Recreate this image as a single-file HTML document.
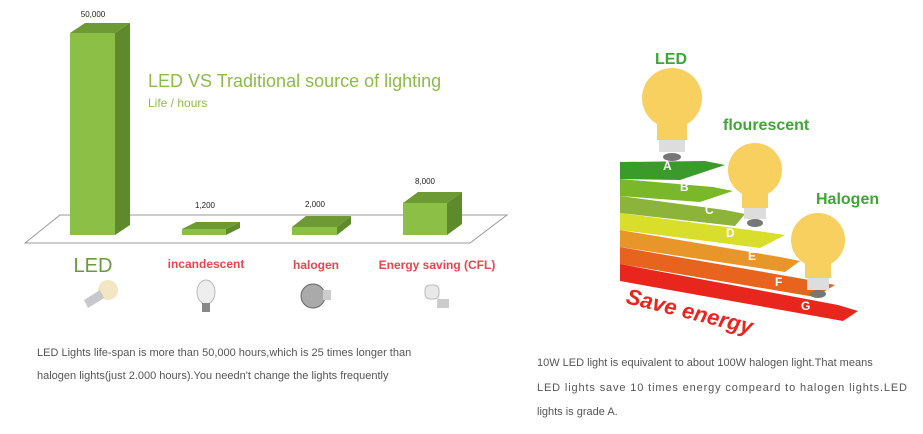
<!DOCTYPE html>
<html><head><meta charset="utf-8"><style>
body{margin:0;width:923px;height:429px;background:#fff;overflow:hidden;font-family:"Liberation Sans",sans-serif}
</style></head><body>
<svg width="923" height="429" viewBox="0 0 923 429" xmlns="http://www.w3.org/2000/svg">
<polygon points="25,243 60,215 507,215 470,243" fill="none" stroke="#999" stroke-width="1"/>
<g>
<polygon points="70,33 85,23 130,23 115,33" fill="#6e9a34"/>
<polygon points="115,33 130,23 130,225 115,235" fill="#5e8a2c"/>
<rect x="70" y="33" width="45" height="202" fill="#8cbf45"/>
<polygon points="182,229 196,222 240,222 226,229" fill="#6e9a34"/>
<polygon points="226,229 240,222 240,228 226,235" fill="#5e8a2c"/>
<rect x="182" y="229" width="44" height="6" fill="#8cbf45"/>
<polygon points="292,227 306,216 351,216 337,227" fill="#6e9a34"/>
<polygon points="337,227 351,216 351,224 337,235" fill="#5e8a2c"/>
<rect x="292" y="227" width="45" height="8" fill="#8cbf45"/>
<polygon points="403,203 418,192 462,192 447,203" fill="#6e9a34"/>
<polygon points="447,203 462,192 462,224 447,235" fill="#5e8a2c"/>
<rect x="403" y="203" width="44" height="32" fill="#8cbf45"/>
</g>
<g font-size="8" fill="#222" text-anchor="middle">
<text x="93" y="17">50,000</text><text x="205" y="208">1,200</text><text x="315" y="207">2,000</text><text x="425" y="184">8,000</text>
</g>
<text x="148" y="87" font-size="18" fill="#8dbb4a">LED VS Traditional source of lighting</text>
<text x="148" y="107" font-size="12" fill="#8dbb4a">Life / hours</text>
<text x="93" y="272" font-size="20" fill="#6a9a3a" text-anchor="middle">LED</text>
<g font-size="12" font-weight="bold" fill="#e8464e" text-anchor="middle" font-family="Liberation Sans Narrow, Liberation Sans, sans-serif">
<text x="206" y="268">incandescent</text><text x="316" y="269">halogen</text><text x="437" y="269">Energy saving (CFL)</text>
</g>
<circle cx="108" cy="290" r="10" fill="#f3e6c4"/><polygon points="100,290 84,300 88,308 104,298" fill="#c8c8cc"/>
<ellipse cx="206" cy="292" rx="9" ry="12" fill="#eee" stroke="#bbb"/><rect x="202" y="303" width="8" height="9" fill="#888"/>
<circle cx="313" cy="296" r="12" fill="#aaa" stroke="#666"/><rect x="323" y="290" width="8" height="10" fill="#ccc"/>
<rect x="425" y="285" width="14" height="14" rx="5" fill="#e8e8e8" stroke="#bbb"/><rect x="437" y="299" width="12" height="9" fill="#ccc"/>
<g font-size="11" fill="#555">
<text x="37" y="356">LED Lights life-span is more than 50,000 hours,which is 25 times longer than</text>
<text x="37" y="379">halogen lights(just 2.000 hours).You  needn't change the lights frequently</text>
<text x="537" y="366">10W LED light is equivalent to about 100W halogen light.That means</text>
<text x="537" y="391" textLength="370">LED lights save 10 times energy compeard to halogen lights.LED</text>
<text x="537" y="415">lights is grade A.</text>
</g>
<g transform="translate(0,-15)">
<polygon points="620,279 620,296 843,336 858,326 838,320" fill="#e8261e"/>
<polygon points="620,262 620,279 815,312 835,300 815,296" fill="#e8641e"/>
<polygon points="620,245 620,262 785,287 800,276 780,272" fill="#e8962a"/>
<polygon points="620,228 620,245 760,263 785,250 765,247" fill="#d9de2a"/>
<polygon points="620,211 620,228 735,241 745,229 725,225" fill="#8cb43a"/>
<polygon points="620,194 620,211 700,217 733,206 713,202" fill="#7ab82a"/>
<polygon points="620,177 620,194 680,195 725,180 705,176" fill="#3a9a2a"/>
<g font-size="12" font-weight="bold" fill="#fff">
<text x="663" y="185">A</text><text x="680" y="206">B</text><text x="705" y="229">C</text><text x="726" y="252">D</text><text x="748" y="275">E</text><text x="775" y="301">F</text><text x="801" y="325">G</text>
</g>
</g>
<text x="0" y="0" font-size="22" font-weight="bold" font-style="italic" fill="#e8261e" transform="translate(625,303) rotate(14)">Save energy</text>
<g fill="#f8d060">
<circle cx="672" cy="98" r="30"/><rect x="657" y="118" width="30" height="22"/>
<circle cx="755" cy="170" r="27"/><rect x="742" y="188" width="26" height="20"/>
<circle cx="818" cy="240" r="27"/><rect x="805" y="258" width="26" height="20"/>
</g>
<g fill="#ddd"><rect x="659" y="140" width="26" height="12"/><rect x="744" y="208" width="22" height="11"/><rect x="807" y="278" width="22" height="12"/></g>
<g fill="#777"><ellipse cx="672" cy="157" rx="9" ry="4"/><ellipse cx="755" cy="223" rx="8" ry="4"/><ellipse cx="818" cy="294" rx="8" ry="4"/></g>
<g font-size="16" font-weight="bold" fill="#3fa535">
<text x="655" y="64">LED</text><text x="723" y="130">flourescent</text><text x="816" y="204">Halogen</text>
</g>
</svg>
</body></html>
